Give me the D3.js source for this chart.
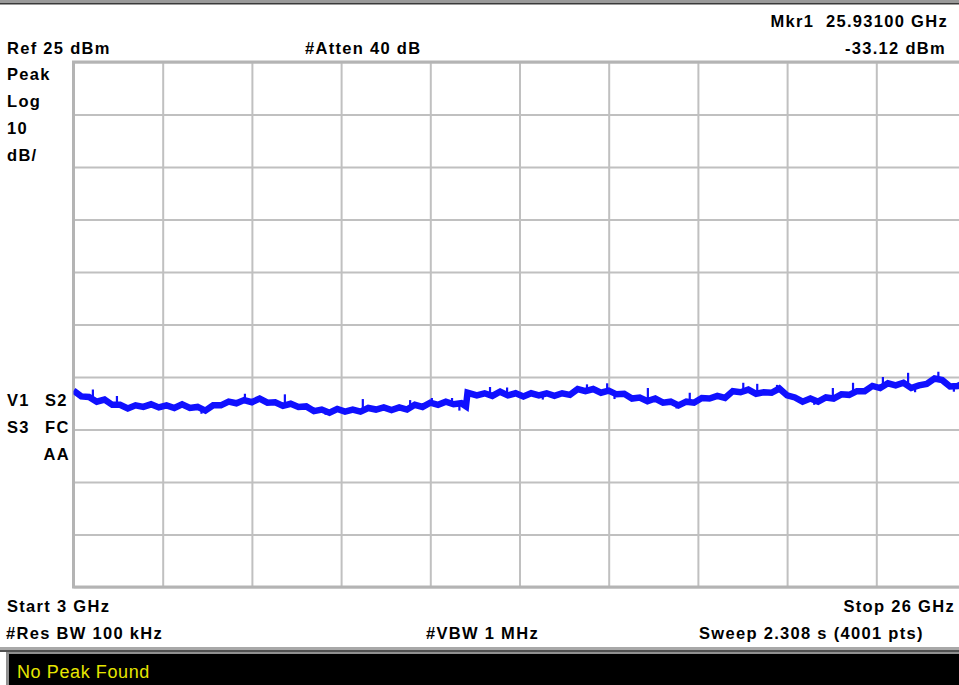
<!DOCTYPE html>
<html>
<head>
<meta charset="utf-8">
<script src="https://cdn.jsdelivr.net/npm/d3@7/dist/d3.min.js"></script>
<style>
  html, body { margin: 0; padding: 0; background: #fff; }
  svg { display: block; }
  .lbl { font-family: "Liberation Sans", Arial, sans-serif; font-weight: bold; font-size: 16.5px; letter-spacing: 1.3px; fill: #000; white-space: pre; }
  .status { font-family: "Liberation Sans", Arial, sans-serif; font-size: 18px; fill: #e6e600; letter-spacing: 0.6px; }
</style>
</head>
<body>
<script>
// ---- Data ----
const refLevel = 25;          // dBm, top of screen
const dbPerDiv = 10;          // dB/div
const startGHz = 3;
const stopGHz = 26;
const xDivisions = [0, 1, 2, 3, 4, 5, 6, 7, 8, 9, 10];
const yDivisions = [0, 1, 2, 3, 4, 5, 6, 7, 8, 9, 10];

// trace: frequency (GHz) and level (dBm)
const traceFreq = [3.0, 3.2, 3.4, 3.6, 3.8, 4.0, 4.2, 4.4, 4.6, 4.8, 5.0, 5.2, 5.4, 5.6, 5.8, 6.0, 6.2, 6.4, 6.6, 6.8,
  7.0, 7.2, 7.4, 7.6, 7.8, 8.0, 8.2, 8.4, 8.6, 8.8, 9.0, 9.2, 9.4, 9.6, 9.8, 10.0, 10.2, 10.4, 10.6, 10.8,
  11.0, 11.2, 11.4, 11.6, 11.8, 12.0, 12.2, 12.4, 12.6, 12.8, 13.0, 13.12, 13.16, 13.4, 13.6, 13.8, 14.0, 14.2, 14.4, 14.6,
  14.8, 15.0, 15.2, 15.4, 15.6, 15.8, 16.0, 16.2, 16.4, 16.6, 16.8, 17.0, 17.2, 17.4, 17.6, 17.8, 18.0, 18.2, 18.4, 18.6,
  18.8, 19.0, 19.2, 19.4, 19.6, 19.8, 20.0, 20.2, 20.4, 20.6, 20.8, 21.0, 21.2, 21.4, 21.6, 21.8, 22.0, 22.2, 22.4, 22.6,
  22.8, 23.0, 23.2, 23.4, 23.6, 23.8, 24.0, 24.2, 24.4, 24.6, 24.8, 25.0, 25.2, 25.4, 25.6, 25.8, 26.0];
const traceLevel = [-37.6, -38.7, -38.8, -39.7, -39.3, -40.3, -40.3, -41.0, -40.4, -40.7, -40.2, -40.8, -40.4, -40.9, -40.2, -40.9, -40.7, -41.4, -40.4, -40.4,
  -39.7, -40.0, -39.4, -39.8, -39.1, -39.9, -39.8, -40.5, -40.1, -40.7, -40.6, -41.5, -41.2, -41.8, -41.1, -41.6, -41.2, -41.6, -40.9, -41.2,
  -40.8, -41.3, -40.8, -41.2, -40.3, -40.7, -39.9, -40.3, -39.7, -40.2, -40.0, -40.6, -38.0, -38.5, -38.1, -38.6, -37.8, -38.5, -38.1, -38.7,
  -38.1, -38.5, -38.1, -38.6, -38.1, -38.4, -37.3, -37.7, -37.3, -38.0, -37.6, -38.3, -38.2, -39.1, -38.9, -39.6, -39.1, -39.9, -39.7, -40.4,
  -39.7, -39.9, -39.0, -39.1, -38.6, -39.0, -37.7, -37.9, -37.4, -38.2, -37.9, -38.0, -37.2, -38.5, -38.9, -39.7, -39.1, -39.7, -38.9, -39.1,
  -38.3, -38.4, -37.7, -37.7, -36.7, -37.1, -36.2, -36.6, -36.1, -37.1, -36.6, -36.3, -35.3, -35.6, -36.8, -36.7, -36.0];

// noise spikes (peaks and dips)
const spikeFreq = [3.50, 4.12, 6.30, 7.42, 8.45, 9.50, 10.46, 11.68, 12.24, 12.76, 12.95, 13.74, 14.18, 15.10, 16.24, 16.76,
  16.95, 17.81, 18.55, 18.89, 20.27, 20.63, 21.14, 22.10, 22.58, 23.10, 23.87, 24.52, 24.70, 25.30, 25.70, 25.931];
const spikeLevel = [-37.4, -38.6, -42.0, -38.2, -38.3, -42.2, -39.2, -39.4, -39.0, -39.0, -41.4, -36.9, -37.0, -39.3, -36.4, -36.2,
  -39.2, -37.1, -41.0, -38.0, -36.1, -36.3, -36.5, -40.3, -37.1, -36.1, -35.0, -34.2, -37.9, -34.0, -37.8, -33.12];

const marker = { freq: 25.931, level: -33.12 };

// texts
const textsTop = { mkr: "Mkr1  25.93100 GHz", ref: "Ref 25 dBm", atten: "#Atten 40 dB", mkrVal: "-33.12 dBm" };
const leftLabels = ["Peak", "Log", "10", "dB/"];
const bottomTexts = { start: "Start 3 GHz", stop: "Stop 26 GHz", rbw: "#Res BW 100 kHz", vbw: "#VBW 1 MHz", sweep: "Sweep 2.308 s (4001 pts)" };
const statusText = "No Peak Found";

// ---- Drawing ----
const W = 959, H = 685;
const plot = { left: 73.5, top: 62, width: 892, height: 525 };

const svg = d3.select("body").append("svg").attr("width", W).attr("height", H);
svg.append("rect").attr("width", W).attr("height", H).attr("fill", "#fff");

// top frame bar
svg.append("rect").attr("x", 0).attr("y", 0).attr("width", W).attr("height", 3).attr("fill", "#9a9a9a");
svg.append("rect").attr("x", 0).attr("y", 3).attr("width", W).attr("height", 1.5).attr("fill", "#3a3a3a");

const x = d3.scaleLinear().domain([startGHz, stopGHz]).range([plot.left, plot.left + plot.width]);
const y = d3.scaleLinear().domain([refLevel - dbPerDiv * 10, refLevel]).range([plot.top + plot.height, plot.top]);

const xGridVals = xDivisions.map(i => startGHz + i * (stopGHz - startGHz) / 10);
const yGridVals = yDivisions.map(i => refLevel - i * dbPerDiv);

const grid = svg.append("g");
grid.append("g")
  .attr("transform", `translate(0,${plot.top + plot.height})`)
  .call(d3.axisBottom(x).tickValues(xGridVals).tickSize(-plot.height).tickFormat(""))
  .call(g => g.select(".domain").remove())
  .call(g => g.selectAll(".tick line").attr("stroke", "#c0c0c0").attr("stroke-width", 2));
grid.append("g")
  .attr("transform", `translate(${plot.left},0)`)
  .call(d3.axisLeft(y).tickValues(yGridVals).tickSize(-plot.width).tickFormat(""))
  .call(g => g.select(".domain").remove())
  .call(g => g.selectAll(".tick line").attr("stroke", "#c0c0c0").attr("stroke-width", 2));

// outer border
svg.append("rect").attr("x", plot.left).attr("y", plot.top).attr("width", plot.width).attr("height", plot.height)
  .attr("fill", "none").attr("stroke", "#b4b4b4").attr("stroke-width", 3);

// clip
svg.append("clipPath").attr("id", "clip").append("rect")
  .attr("x", plot.left).attr("y", plot.top).attr("width", plot.width).attr("height", plot.height);

const traceData = traceFreq.map((f, i) => ({ f, v: traceLevel[i] }));
const line = d3.line().x(d => x(d.f)).y(d => y(d.v)).curve(d3.curveLinear);

const tg = svg.append("g").attr("clip-path", "url(#clip)");
tg.append("path").datum(traceData).attr("d", line)
  .attr("fill", "none").attr("stroke", "#1010ff").attr("stroke-width", 6.5).attr("stroke-linejoin", "miter");

// spikes
const interp = d3.scaleLinear().domain(traceFreq).range(traceLevel);
tg.selectAll("line.spike").data(spikeFreq.map((f, i) => ({ f, v: spikeLevel[i] })))
  .join("line").attr("class", "spike")
  .attr("x1", d => x(d.f)).attr("x2", d => x(d.f))
  .attr("y1", d => y(interp(d.f))).attr("y2", d => y(d.v))
  .attr("stroke", "#1010ff").attr("stroke-width", 2.2);

// marker diamond
const mx = x(marker.freq), my = y(marker.level) - 6;
svg.append("path").attr("d", `M${mx},${my - 3}L${mx + 3},${my}L${mx},${my + 3}L${mx - 3},${my}Z`).attr("fill", "#000");

// texts
function txt(t, xx, yy, anchor) {
  return svg.append("text").attr("class", "lbl").attr("x", xx).attr("y", yy)
    .attr("text-anchor", anchor || "start").text(t);
}
txt(textsTop.mkr, 948, 27, "end");
txt(textsTop.ref, 7, 54);
txt(textsTop.atten, 305, 54);
txt(textsTop.mkrVal, 946, 54, "end");
leftLabels.forEach((t, i) => txt(t, 7, 80 + i * 27));
txt("V1", 7, 406); txt("S2", 45, 406);
txt("S3", 7, 433); txt("FC", 45, 433);
txt("AA", 70, 460, "end");
txt(bottomTexts.start, 7, 612);
txt(bottomTexts.stop, 955, 612, "end");
txt(bottomTexts.rbw, 6, 639);
txt(bottomTexts.vbw, 426, 639);
txt(bottomTexts.sweep, 699, 639);

// status bar
svg.append("rect").attr("x", 0).attr("y", 647).attr("width", W).attr("height", 3).attr("fill", "#a8a8a8");
svg.append("rect").attr("x", 0).attr("y", 650).attr("width", W).attr("height", 2).attr("fill", "#505050");
svg.append("rect").attr("x", 6).attr("y", 652).attr("width", W - 6).attr("height", H - 652).attr("fill", "#909090");
svg.append("rect").attr("x", 9).attr("y", 654).attr("width", W - 9).attr("height", H - 654).attr("fill", "#000");
svg.append("text").attr("class", "status").attr("x", 17).attr("y", 678).text(statusText);
</script>
</body>
</html>
